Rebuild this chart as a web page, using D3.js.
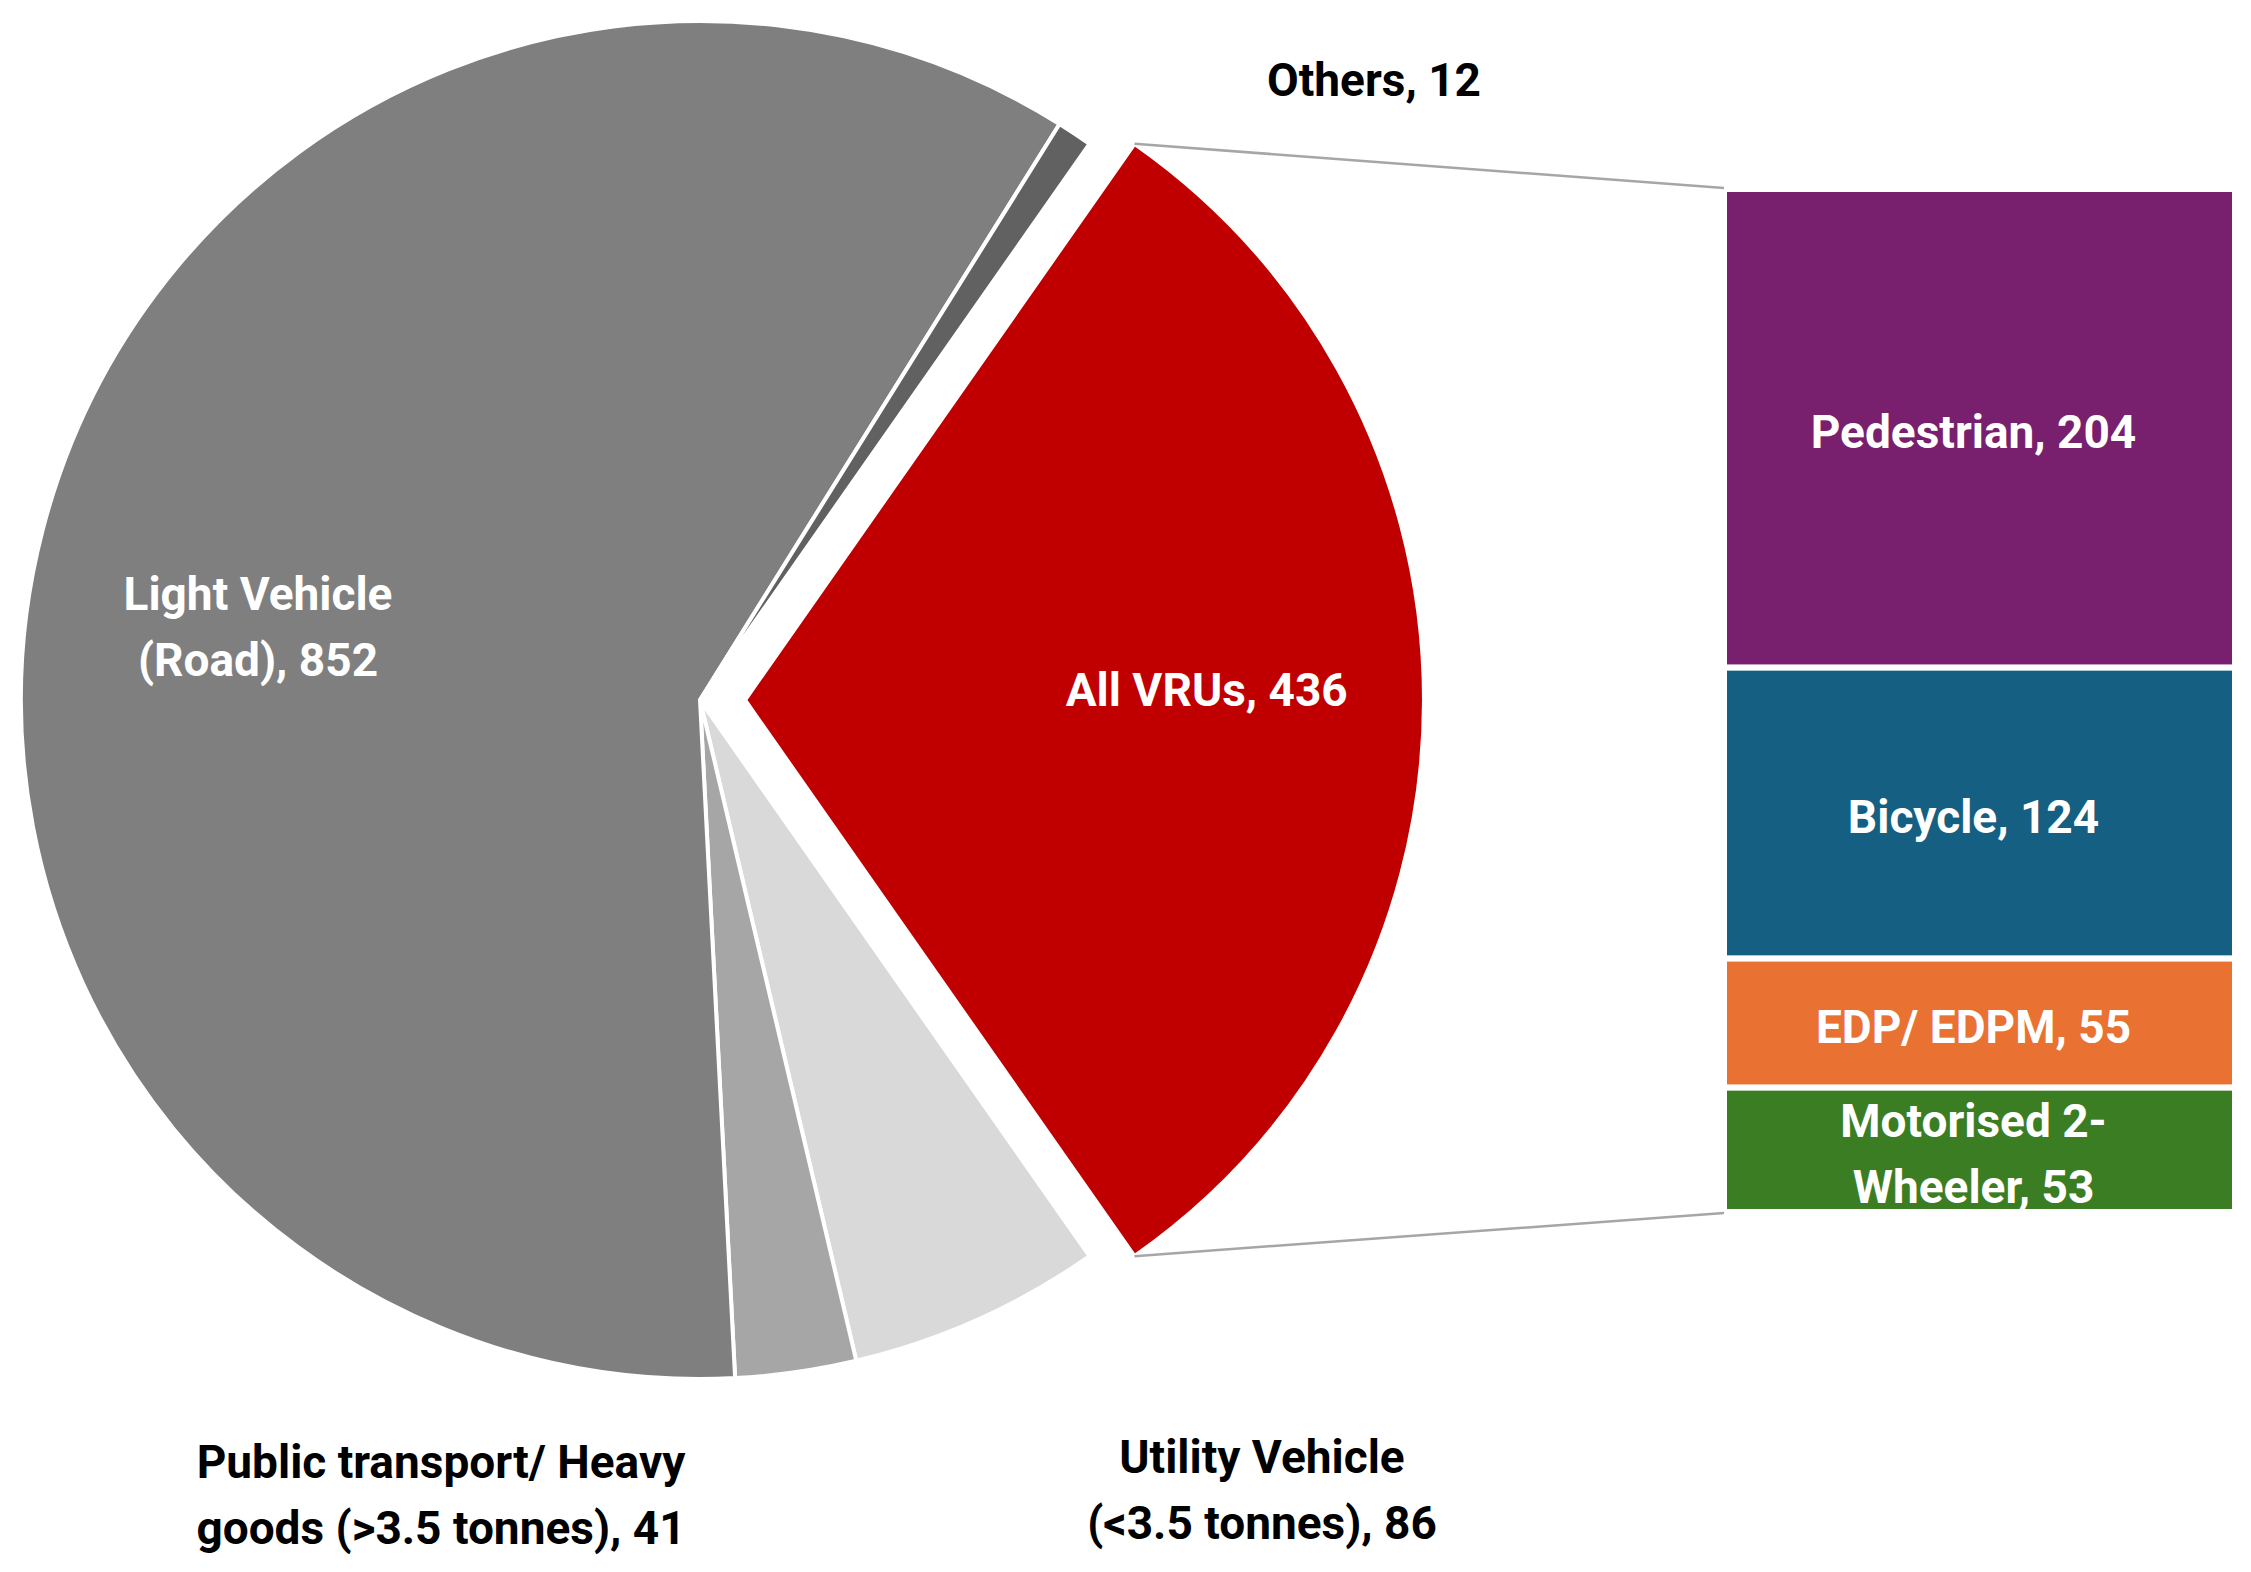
<!DOCTYPE html>
<html>
<head>
<meta charset="utf-8">
<script src="https://cdn.jsdelivr.net/npm/d3@7"></script>
<style>
  html, body { margin: 0; padding: 0; background: #fff; }
  svg text { font-family: "Liberation Sans Narrow", "Arial Narrow", "Roboto", sans-serif; font-weight: bold; }
</style>
</head>
<body>
<div id="chart"></div>
<script>
// pie slices, clockwise starting at the exploded VRU slice
var pieNames = ["All VRUs", "Utility Vehicle (<3.5 tonnes)", "Public transport/ Heavy goods (>3.5 tonnes)", "Light Vehicle (Road)", "Others"];
var pieValues = [436, 86, 41, 852, 12];

// breakdown of the VRU slice (bar of pie)
var barNames = ["Pedestrian", "Bicycle", "EDP/ EDPM", "Motorised 2-Wheeler"];
var barValues = [204, 124, 55, 53];

// label text lines
var pieLabels = [
    ["All VRUs, 436"],
    ["Utility Vehicle", "(<3.5 tonnes), 86"],
    ["Public transport/ Heavy", "goods (>3.5 tonnes), 41"],
    ["Light Vehicle", "(Road), 852"],
    ["Others, 12"]
];
var barLabels = [["Pedestrian, 204"], ["Bicycle, 124"], ["EDP/ EDPM, 55"], ["Motorised 2-", "Wheeler, 53"]];

var pieColors = ["#c00000", "#d9d9d9", "#a6a6a6", "#7f7f7f", "#616161"];
var barColors = ["#78206e", "#155f82", "#e97132", "#3b7d23"];

var W = 2251, H = 1572;
var cx = 700, cy = 700, R = 679;
var explode = 45;
var fontSize = 46, lineGap = 66;

var svg = d3.select("#chart").append("svg")
    .attr("width", W)
    .attr("height", H);

// VRU slice centred on the right-hand side
var total = d3.sum(pieValues);
var a0 = Math.PI / 2 - Math.PI * pieValues[0] / total;
var pie = d3.pie().sort(null).startAngle(a0).endAngle(a0 + 2 * Math.PI);
var arcs = pie(pieValues);
var arc = d3.arc().innerRadius(0).outerRadius(R);

function offsetOf(i) {
    if (i !== 0) return [0, 0];
    var m = (arcs[0].startAngle + arcs[0].endAngle) / 2;
    return [explode * Math.sin(m), -explode * Math.cos(m)];
}

var pieG = svg.append("g").attr("transform", "translate(" + cx + "," + cy + ")");
pieG.selectAll("path.slice").data(arcs).enter()
    .append("path")
    .attr("class", "slice")
    .attr("transform", function(d, i) { var o = offsetOf(i); return "translate(" + o[0] + "," + o[1] + ")"; })
    .attr("d", arc)
    .style("fill", function(d, i) { return pieColors[i]; })
    .style("stroke", "#fff")
    .style("stroke-width", 4)
    .style("stroke-linejoin", "round");

// stacked bar
var barX0 = 1724, barX1 = 2235;
var y = d3.scaleLinear().domain([0, d3.sum(barValues)]).range([189, 1212]);
var cum = 0;
var stack = barValues.map(function(v, i) {
    var s = { name: barNames[i], v0: cum, v1: cum + v, i: i };
    cum += v;
    return s;
});
svg.selectAll("rect.seg").data(stack).enter()
    .append("rect")
    .attr("class", "seg")
    .attr("x", barX0)
    .attr("width", barX1 - barX0)
    .attr("y", function(d) { return y(d.v0); })
    .attr("height", function(d) { return y(d.v1) - y(d.v0); })
    .style("fill", function(d) { return barColors[d.i]; })
    .style("stroke", "#fff")
    .style("stroke-width", 6);

// connector lines from VRU slice corners to the bar
var vru = arcs[0], off = offsetOf(0);
var cTop = [cx + off[0] + R * Math.sin(vru.startAngle), cy + off[1] - R * Math.cos(vru.startAngle)];
var cBot = [cx + off[0] + R * Math.sin(vru.endAngle), cy + off[1] - R * Math.cos(vru.endAngle)];
var connectors = [[cTop, [barX0, y(0) - 1]], [cBot, [barX0, y(d3.sum(barValues)) + 1]]];
svg.selectAll("line.conn").data(connectors).enter()
    .append("line")
    .attr("class", "conn")
    .attr("x1", function(d) { return d[0][0]; })
    .attr("y1", function(d) { return d[0][1]; })
    .attr("x2", function(d) { return d[1][0]; })
    .attr("y2", function(d) { return d[1][1]; })
    .style("stroke", "#a6a6a6")
    .style("stroke-width", 2.5);

// text helper: lines centred on (x, y)
function addLabel(lines, x, yc, color) {
    var t = svg.append("text")
        .attr("text-anchor", "middle")
        .style("font-size", fontSize + "px")
        .style("fill", color);
    var first = yc - (lines.length - 1) * lineGap / 2;
    lines.forEach(function(s, k) {
        t.append("tspan")
            .attr("x", x)
            .attr("y", first + k * lineGap)
            .attr("dy", "0.35em")
            .text(s);
    });
}

// VRU label sits on the slice bisector; the others are placed like Excel's best fit
var vruLabelRadius = 0.68;
var labelPos = { 1: [1262, 1490], 2: [441, 1495], 3: [258, 627], 4: [1374, 80] };
arcs.forEach(function(d, i) {
    var o = offsetOf(i);
    if (i === 0) {
        var m = (d.startAngle + d.endAngle) / 2, r = R * vruLabelRadius;
        addLabel(pieLabels[i], cx + o[0] + r * Math.sin(m), cy + o[1] - r * Math.cos(m) - 10, "#fff");
    } else {
        var p = labelPos[i];
        addLabel(pieLabels[i], p[0], p[1], i === 3 ? "#fff" : "#000");
    }
});

// bar labels centred in each segment
stack.forEach(function(d) {
    addLabel(barLabels[d.i], (barX0 + barX1) / 2 - 6, (y(d.v0) + y(d.v1)) / 2 + 4, "#fff");
});
</script>
</body>
</html>
